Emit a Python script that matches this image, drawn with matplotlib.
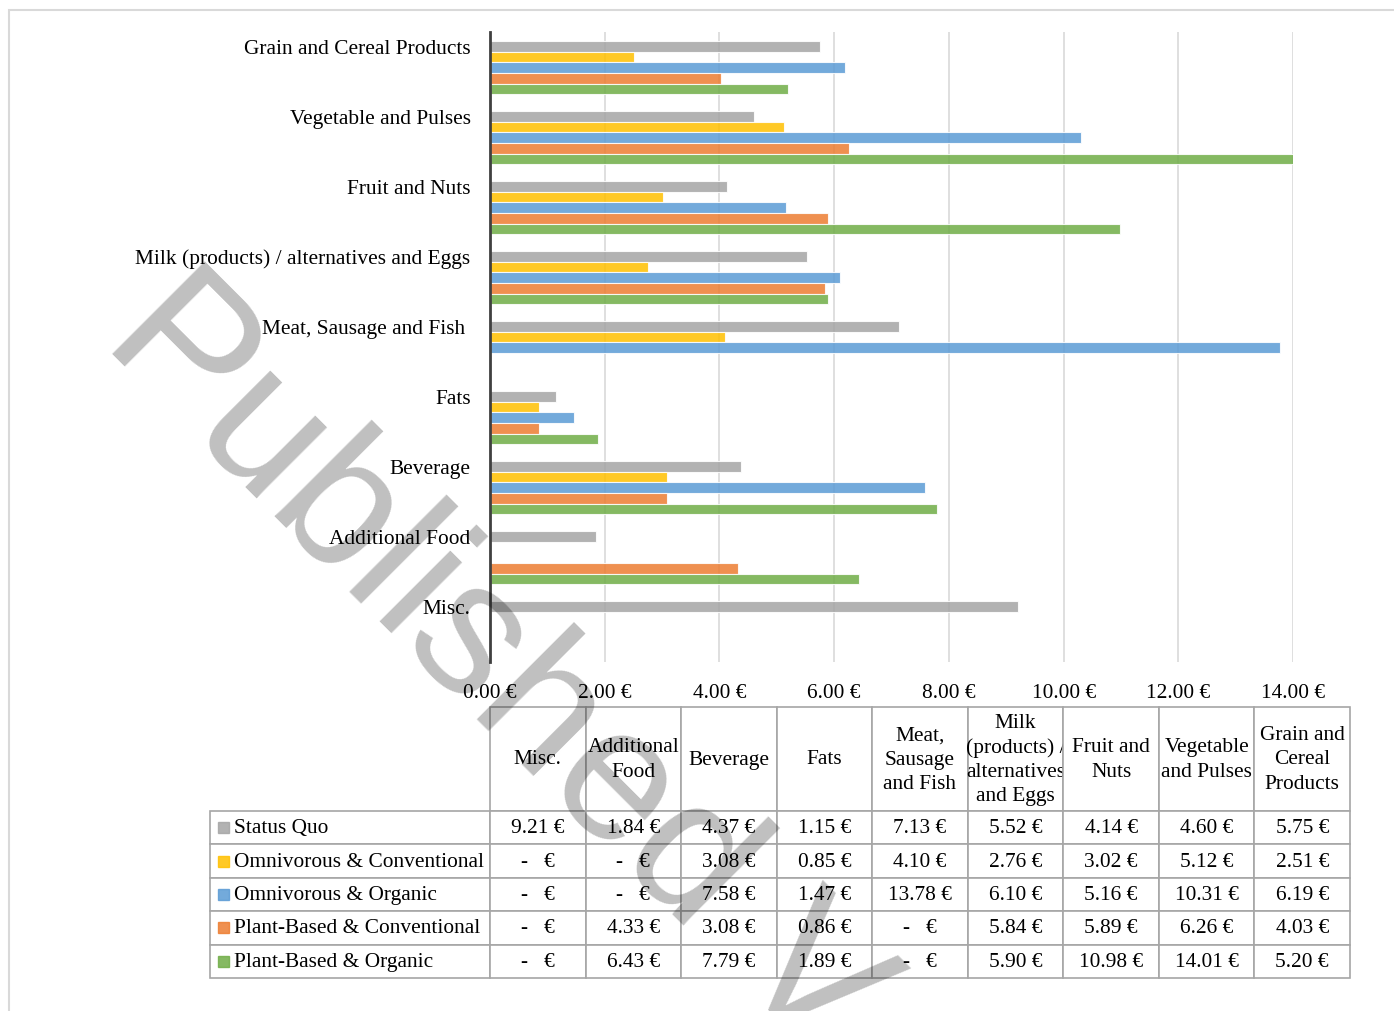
import numpy as np
import matplotlib
matplotlib.use('Agg')
import matplotlib.pyplot as plt
from matplotlib.patches import Rectangle

plt.rcParams['font.family'] = ['Liberation Serif', 'DejaVu Serif']

# categories from bottom to top of the chart (= left to right in the table)
categories = ['Misc.', 'Additional Food', 'Beverage', 'Fats', 'Meat, Sausage and Fish ',
              'Milk (products) / alternatives and Eggs', 'Fruit and Nuts',
              'Vegetable and Pulses', 'Grain and Cereal Products']
table_headers = ['Misc.', 'Additional\nFood', 'Beverage', 'Fats', 'Meat,\nSausage\nand Fish',
                 'Milk\n(products) /\nalternatives\nand Eggs', 'Fruit and\nNuts',
                 'Vegetable\nand Pulses', 'Grain and\nCereal\nProducts']
series = ['Status Quo', 'Omnivorous & Conventional', 'Omnivorous & Organic',
          'Plant-Based & Conventional', 'Plant-Based & Organic']

status_quo = [9.21, 1.84, 4.37, 1.15, 7.13, 5.52, 4.14, 4.60, 5.75]
omni_conv = [0, 0, 3.08, 0.85, 4.10, 2.76, 3.02, 5.12, 2.51]
omni_org = [0, 0, 7.58, 1.47, 13.78, 6.10, 5.16, 10.31, 6.19]
plant_conv = [0, 4.33, 3.08, 0.86, 0, 5.84, 5.89, 6.26, 4.03]
plant_org = [0, 6.43, 7.79, 1.89, 0, 5.90, 10.98, 14.01, 5.20]

colors = ['#a5a5a5', '#ffc000', '#5b9bd5', '#ed7d31', '#70ad47']
xticks = np.arange(0, 15, 2)

# figure / axes geometry in pixels
W, H = 1394, 1012
AX_L, AX_R, AX_T, AX_B = 490, 1293, 33, 663

fig = plt.figure(figsize=(W / 100, H / 100), dpi=100)
ax = fig.add_axes([AX_L / W, 1 - AX_B / H, (AX_R - AX_L) / W, (AX_B - AX_T) / H])


def px_to_ax(px, py):
    return (px - AX_L) / (AX_R - AX_L), (AX_B - py) / (AX_B - AX_T)


values = [status_quo, omni_conv, omni_org, plant_conv, plant_org]
y = np.arange(len(categories))
h = 0.153
for k, (vals, col) in enumerate(zip(values, colors)):
    vals = np.array(vals)
    m = vals > 0
    ax.barh(y[m] + (2 - k) * h - 0.01, vals[m], height=h, color=col, alpha=0.85,
            edgecolor='white', linewidth=0.8, zorder=2)

ax.set_xlim(0, 14)
ax.set_ylim(-0.5, len(categories) - 0.5)
ax.set_xticks(xticks)
ax.set_xticklabels([f'{v:.2f} €' for v in xticks], fontsize=15.4)
ax.set_yticks(y + 2 * h)
ax.set_yticklabels(categories, fontsize=15.4)
ax.tick_params(length=0)
ax.tick_params(axis='x', pad=15)
ax.tick_params(axis='y', pad=14)
ax.grid(axis='x', color='#d9d9d9', linewidth=1.2, zorder=0)
ax.set_axisbelow(True)
for s in ['top', 'right', 'bottom']:
    ax.spines[s].set_visible(False)
ax.spines['left'].set_color('#404040')
ax.spines['left'].set_linewidth(2)
ax.spines['left'].set_zorder(3)

# data table under the chart
fmt = lambda v: f'{v:.2f} €' if v > 0 else '-   €'
cell_text = [[name] + [fmt(v) for v in vals] for name, vals in zip(series, values)]
x0, y_top = px_to_ax(210, 708)
x1, y_bot = px_to_ax(1350, 979)
label_w, col_w = 280, 95.56
tbl = ax.table(cellText=cell_text, colLabels=[''] + table_headers,
               colWidths=[label_w] + [col_w] * len(categories), cellLoc='center',
               bbox=[x0, y_bot, x1 - x0, y_top - y_bot])
tbl.auto_set_font_size(False)
tbl.set_fontsize(15.4)
head_h, row_h = 104, 33.4
for (r, c), cell in tbl.get_celld().items():
    cell.set_edgecolor('#a6a6a6')
    cell.set_linewidth(1.2)
    cell.set_height(head_h if r == 0 else row_h)
    if r == 0:
        cell.get_text().set_linespacing(1.37)
    if c == 0:
        cell.get_text().set_ha('left')
        cell.PAD = 24 / label_w
    if r == 0 and c == 0:
        cell.visible_edges = 'open'

# legend keys in the table
for k, col in enumerate(colors):
    cy = 708 + head_h + row_h * (k + 0.5)
    sx, sy = px_to_ax(218, cy + 5.5)
    ax.add_patch(Rectangle((sx, sy), 11 / (AX_R - AX_L), 11 / (AX_B - AX_T),
                           transform=ax.transAxes, color=col, alpha=0.85,
                           clip_on=False, zorder=5))

# outer frame
fig.add_artist(Rectangle((9 / W, -0.1), 1.2, 1 - 11 / H + 0.1, transform=fig.transFigure,
                         fill=False, edgecolor='#d9d9d9', linewidth=1.5))

# watermark
fig.text(101 / W, 1 - 342 / H, 'Published V', rotation=-45, rotation_mode='anchor',
         ha='left', va='baseline', fontsize=137, family='Liberation Sans',
         color='black', alpha=0.25, zorder=10)

fig.savefig('out.png', dpi=100)
